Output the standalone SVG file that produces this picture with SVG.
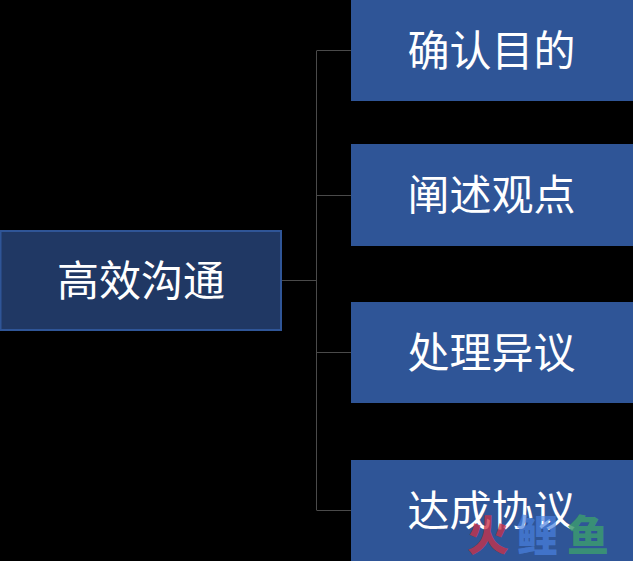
<svg xmlns="http://www.w3.org/2000/svg" width="633" height="561" viewBox="0 0 633 561">
<style>
text{font-family:"Noto Sans CJK SC","Noto Sans CJK JP",sans-serif;text-anchor:middle}
.t{font-size:42px;fill:#fff;font-weight:400}
.b{fill:#2f5597}
.c{fill:none;stroke:#4a4a4a;stroke-width:1}
.w{font-size:42px;font-weight:900}
</style>
<rect width="633" height="561" fill="#000"/>
<g id="connectors">
<path class="c" d="M282 280.500H317"/>
<path class="c" d="M316.500 50.500V510.500"/>
<path class="c" d="M317 50.500H351M317 195.500H351M317 352.500H351M317 510.500H351"/>
</g>
<g id="root"><rect x="0.500" y="231" width="280.500" height="99" fill="#203864" stroke="#2f5597" stroke-width="2"/><text class="t" x="141" y="296">高效沟通</text></g>
<g id="n1"><rect class="b" x="351" y="0" width="282" height="101"/><text class="t" x="491.500" y="66">确认目的</text></g>
<g id="n2"><rect class="b" x="351" y="144" width="282" height="102"/><text class="t" x="491.500" y="210">阐述观点</text></g>
<g id="n3"><rect class="b" x="351" y="302" width="282" height="101"/><text class="t" x="491.500" y="368">处理异议</text></g>
<g id="n4"><rect class="b" x="351" y="460" width="282" height="101"/><text class="t" x="491.500" y="526">达成协议</text></g>
<g id="watermark"><text class="w" x="488" y="551" fill="#c8324a" fill-opacity=".8">火</text><text class="w" x="537" y="551" fill="#4a82e0" fill-opacity=".7">鲤</text><text class="w" x="588" y="551" fill="#3c9a70" fill-opacity=".85">鱼</text></g>
</svg>
